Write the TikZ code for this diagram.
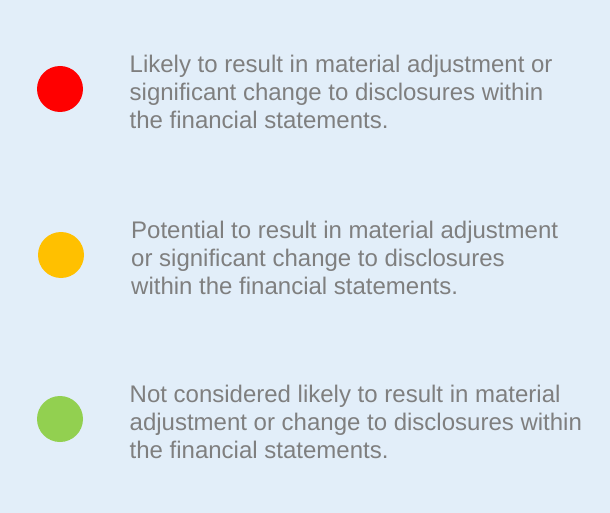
\documentclass[tikz,border=0pt]{standalone}
\usepackage{fontspec}
\setmainfont{Liberation Sans}
\definecolor{bgblue}{RGB}{226,238,249}
\definecolor{txtgrey}{RGB}{127,127,127}
\definecolor{dotred}{RGB}{255,0,0}
\definecolor{dotorange}{RGB}{255,192,0}
\definecolor{dotgreen}{RGB}{146,208,80}
\tikzset{
  dot/.style={circle, minimum size=46pt, inner sep=0pt, draw=none},
  legendtext/.style={anchor=base west, align=left, inner sep=0pt, text=txtgrey,
    font=\fontsize{24}{28}\selectfont}
}
\begin{document}
\begin{tikzpicture}[x=1pt,y=-1pt]
  \fill[bgblue] (0,0) rectangle (610,513);
  \useasboundingbox (0,0) rectangle (610,513);
  \node[dot, fill=dotred] (red) at (60,89) {};
  \node[dot, fill=dotorange] (orange) at (61,255) {};
  \node[dot, fill=dotgreen] (green) at (60,419) {};
  % base anchor of a multi-line node is the baseline of its last line
  \node[legendtext] (t1) at (129.5,128.3) {Likely to result in material adjustment or\\significant change to disclosures within\\the financial statements.};
  \node[legendtext] (t2) at (131,294.3) {Potential to result in material adjustment\\or significant change to disclosures\\within the financial statements.};
  \node[legendtext] (t3) at (129.5,458.3) {Not considered likely to result in material\\adjustment or change to disclosures within\\the financial statements.};
\end{tikzpicture}
\end{document}
